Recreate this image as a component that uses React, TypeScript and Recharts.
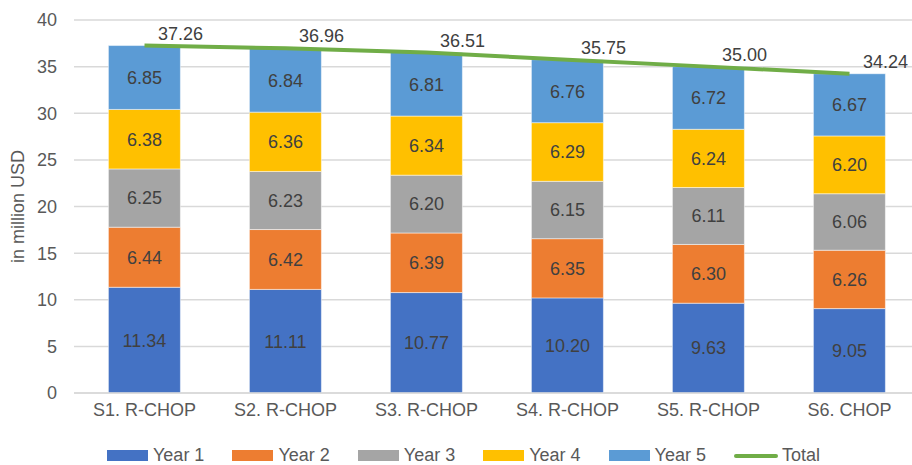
import { ComposedChart, Bar, Line, XAxis, YAxis, CartesianGrid, LabelList } from 'recharts';

const categories = ['S1. R-CHOP', 'S2. R-CHOP', 'S3. R-CHOP', 'S4. R-CHOP', 'S5. R-CHOP', 'S6. CHOP'];
const year1 = [11.34, 11.11, 10.77, 10.2, 9.63, 9.05];
const year2 = [6.44, 6.42, 6.39, 6.35, 6.3, 6.26];
const year3 = [6.25, 6.23, 6.2, 6.15, 6.11, 6.06];
const year4 = [6.38, 6.36, 6.34, 6.29, 6.24, 6.2];
const year5 = [6.85, 6.84, 6.81, 6.76, 6.72, 6.67];
const totals = [37.26, 36.96, 36.51, 35.75, 35.0, 34.24];
const yTicks = [0, 5, 10, 15, 20, 25, 30, 35, 40];

const series = [
  { key: 'y1', name: 'Year 1', color: '#4472C4', values: year1 },
  { key: 'y2', name: 'Year 2', color: '#ED7D31', values: year2 },
  { key: 'y3', name: 'Year 3', color: '#A5A5A5', values: year3 },
  { key: 'y4', name: 'Year 4', color: '#FFC000', values: year4 },
  { key: 'y5', name: 'Year 5', color: '#5B9BD5', values: year5 },
];

const data = categories.map((name, i) => {
  const row: any = { name, total: totals[i] };
  series.forEach(s => { row[s.key] = s.values[i]; });
  return row;
});

const font = 'Arial, "Liberation Sans", sans-serif';
const fmt = (v: any) => Number(v).toFixed(2);

const TotalLabel = (props: any) => {
  const { x, y, value } = props;
  return (
    <text x={x + 36} y={y - 6} textAnchor="middle" fill="#404040" fontSize={18} fontFamily={font}>
      {fmt(value)}
    </text>
  );
};

export default function App() {
  return (
    <div style={{ position: 'absolute', left: 0, top: 0, width: 912, height: 465, background: '#fff', overflow: 'hidden', fontFamily: font }}>
      <ComposedChart
        width={920}
        height={430}
        data={data}
        margin={{ top: 20, right: 0, left: 0, bottom: 0 }}
        barCategoryGap="24.4%"
      >
        <CartesianGrid vertical={false} stroke="#D9D9D9" strokeWidth={1.5} />
        <XAxis
          dataKey="name"
          height={37}
          tickLine={false}
          axisLine={{ stroke: '#D9D9D9', strokeWidth: 1.5 }}
          tick={{ fill: '#595959', fontSize: 18, fontFamily: font }}
          tickMargin={4}
        />
        <YAxis
          width={74}
          domain={[0, 40]}
          ticks={yTicks}
          tickLine={false}
          axisLine={false}
          tickSize={6}
          tickMargin={11}
          tick={{ fill: '#595959', fontSize: 18, fontFamily: font }}
          label={{ value: 'in million USD', angle: -90, position: 'insideLeft', offset: 18, style: { textAnchor: 'middle', fill: '#595959', fontSize: 18, fontFamily: font } }}
        />
        {series.map(s => (
          <Bar key={s.key} dataKey={s.key} name={s.name} stackId="a" fill={s.color} stroke="#ffffff" strokeWidth={0.5} isAnimationActive={false}>
            <LabelList dataKey={s.key} position="center" formatter={fmt} fill="#404040" fontSize={18} fontFamily={font} />
          </Bar>
        ))}
        <Line dataKey="total" name="Total" stroke="#70AD47" strokeWidth={4} dot={false} isAnimationActive={false}>
          <LabelList dataKey="total" content={TotalLabel} />
        </Line>
      </ComposedChart>
      <div style={{ position: 'absolute', top: 445, left: 107, display: 'flex', alignItems: 'center', fontSize: 18, color: '#595959' }}>
        {series.map(s => (
          <div key={s.key} style={{ display: 'flex', alignItems: 'center', marginRight: 28 }}>
            <span style={{ display: 'inline-block', width: 41, height: 11, background: s.color, marginRight: 5 }} />
            <span>{s.name}</span>
          </div>
        ))}
        <div style={{ display: 'flex', alignItems: 'center' }}>
          <span style={{ display: 'inline-block', width: 44, height: 4, borderRadius: 2, background: '#70AD47', marginRight: 4 }} />
          <span>Total</span>
        </div>
      </div>
    </div>
  );
}
